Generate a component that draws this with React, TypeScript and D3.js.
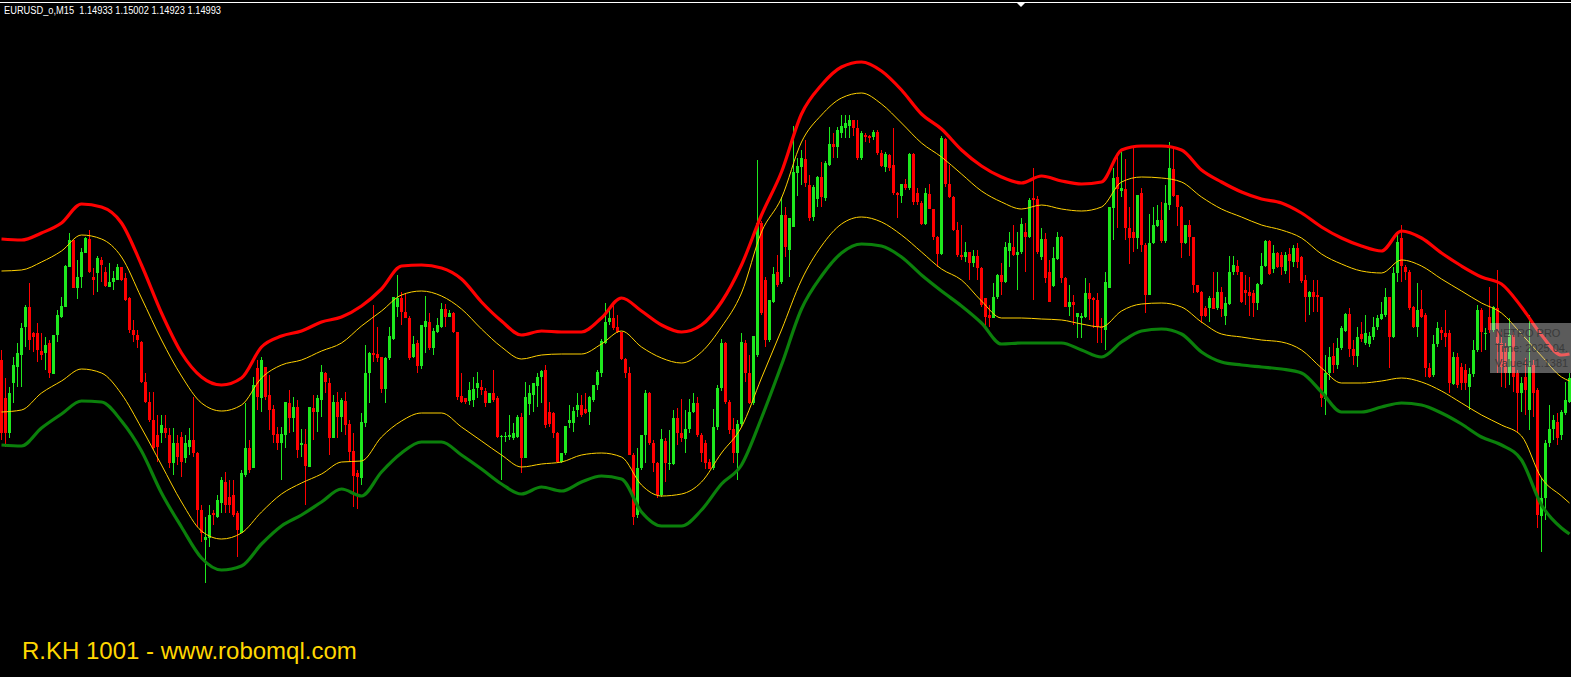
import React from "react";
import * as d3 from "d3";

const W = 1571;
const H = 677;

// Price values in points (chart units), one entry per M15 bar
const opens = [
  317, 279, 244, 294, 310, 322, 350, 370, 344, 344,
  326, 324, 334, 303, 342, 360, 370, 410, 437, 389,
  400, 424, 438, 400, 404, 417, 405, 390, 395, 397,
  410, 399, 379, 347, 342, 335, 295, 275, 257, 242,
  244, 249, 242, 214, 234, 240, 219, 230, 237, 224,
  167, 137, 139, 164, 160, 174, 195, 180, 182, 164,
  144, 202, 229, 209, 309, 279, 310, 282, 268, 243,
  234, 242, 274, 259, 270, 232, 233, 210, 269, 265,
  277, 304, 294, 239, 275, 260, 276, 253, 226, 204,
  199, 254, 304, 324, 323, 320, 288, 319, 338, 370,
  379, 365, 359, 320, 334, 311, 350, 355, 329, 345,
  350, 368, 360, 364, 345, 281, 279, 276, 277, 289,
  290, 286, 274, 284, 279, 240, 240, 240, 239, 240,
  260, 219, 273, 282, 291, 300, 307, 265, 264, 244,
  215, 224, 254, 254, 267, 272, 268, 265, 277, 292,
  304, 334, 355, 359, 350, 345, 318, 304, 222, 162,
  209, 242, 284, 234, 214, 182, 236, 213, 213, 259,
  244, 238, 248, 265, 274, 242, 234, 215, 209, 250,
  289, 334, 275, 248, 224, 253, 334, 304, 274, 322,
  454, 397, 337, 375, 405, 395, 462, 427, 450, 504,
  510, 518, 492, 460, 478, 500, 479, 512, 533, 530,
  544, 549, 551, 557, 549, 519, 542, 541, 540, 545,
  524, 510, 522, 512, 484, 481, 493, 489, 523, 484,
  474, 453, 483, 468, 440, 423, 538, 493, 480, 447,
  422, 420, 425, 414, 421, 409, 379, 362, 359, 380,
  402, 395, 426, 430, 422, 425, 445, 440, 479, 478,
  420, 438, 405, 391, 418, 440, 399, 370, 375, 360,
  359, 360, 384, 379, 377, 350, 347, 389, 469, 500,
  486, 488, 449, 445, 439, 484, 432, 382, 434, 451,
  457, 436, 472, 508, 482, 470, 434, 452, 440, 392,
  385, 369, 369, 379, 369, 385, 361, 373, 405, 411,
  405, 387, 385, 384, 374, 393, 411, 436, 408, 424,
  422, 406, 423, 415, 429, 420, 397, 380, 385, 382,
  380, 278, 304, 321, 312, 329, 346, 363, 328, 321,
  343, 334, 333, 340, 350, 358, 362, 380, 340, 404,
  439, 410, 405, 370, 350, 368, 362, 309, 302, 333,
  347, 344, 344, 293, 320, 310, 307, 290, 303, 327,
  367, 343, 360, 347, 369, 334, 329, 304, 342, 304,
  284, 300, 267, 312, 287, 161, 179, 234, 248, 255,
  242, 264, 275,
];

const highs = [
  327, 299, 290, 320, 334, 354, 372, 394, 345, 354,
  344, 340, 337, 342, 367, 380, 412, 444, 437, 417,
  429, 440, 447, 409, 421, 420, 410, 414, 406, 413,
  410, 404, 380, 357, 347, 336, 304, 285, 285, 262,
  262, 262, 249, 249, 242, 245, 242, 249, 280, 225,
  172, 160, 172, 167, 182, 200, 205, 197, 197, 166,
  207, 274, 237, 300, 317, 320, 310, 302, 272, 250,
  250, 275, 287, 280, 277, 248, 248, 270, 282, 282,
  312, 305, 299, 282, 285, 279, 285, 257, 244, 207,
  264, 332, 325, 372, 350, 320, 320, 350, 380, 402,
  385, 384, 361, 341, 337, 352, 381, 364, 349, 359,
  374, 373, 367, 365, 345, 304, 279, 295, 300, 305,
  297, 289, 284, 307, 281, 242, 245, 262, 254, 262,
  264, 295, 292, 294, 304, 307, 312, 275, 265, 245,
  224, 251, 272, 270, 284, 282, 284, 281, 292, 307,
  338, 374, 369, 372, 362, 345, 319, 310, 224, 229,
  242, 287, 285, 237, 215, 248, 239, 247, 267, 269,
  278, 267, 278, 284, 280, 244, 237, 218, 268, 292,
  338, 335, 277, 259, 257, 344, 337, 322, 341, 517,
  456, 400, 377, 410, 422, 480, 470, 459, 551, 519,
  527, 537, 502, 492, 501, 515, 516, 550, 544, 550,
  562, 562, 562, 557, 557, 546, 544, 542, 547, 547,
  527, 525, 523, 549, 485, 493, 498, 524, 524, 489,
  476, 489, 493, 468, 441, 541, 539, 512, 481, 455,
  452, 435, 425, 427, 427, 410, 379, 372, 394, 403,
  414, 435, 445, 452, 445, 459, 454, 479, 509, 481,
  449, 444, 417, 430, 445, 441, 400, 392, 382, 364,
  364, 399, 394, 380, 384, 359, 405, 470, 509, 520,
  525, 518, 470, 529, 482, 489, 434, 463, 470, 472,
  475, 492, 535, 529, 482, 471, 452, 457, 440, 392,
  386, 371, 381, 405, 405, 390, 380, 421, 421, 417,
  405, 402, 400, 387, 394, 424, 437, 437, 432, 425,
  425, 425, 429, 432, 434, 421, 402, 386, 397, 397,
  380, 322, 330, 334, 339, 351, 364, 369, 337, 350,
  355, 362, 345, 360, 362, 375, 389, 380, 410, 445,
  452, 412, 407, 371, 394, 387, 364, 314, 342, 355,
  350, 367, 347, 325, 324, 314, 313, 309, 337, 372,
  369, 349, 390, 371, 407, 345, 334, 359, 345, 307,
  300, 319, 362, 317, 289, 199, 237, 272, 262, 264,
  267, 295, 304,
];

const lows = [
  237, 230, 239, 274, 290, 290, 330, 327, 325, 315,
  317, 307, 299, 303, 335, 359, 370, 410, 389, 378,
  389, 424, 404, 382, 385, 395, 390, 390, 387, 397,
  396, 376, 344, 335, 329, 294, 274, 255, 227, 215,
  234, 239, 209, 202, 212, 200, 214, 222, 220, 150,
  135, 94, 130, 152, 159, 164, 164, 164, 160, 120,
  144, 200, 204, 209, 267, 265, 277, 247, 234, 227,
  197, 229, 244, 245, 219, 220, 172, 210, 237, 245,
  260, 284, 222, 239, 239, 245, 242, 215, 170, 168,
  192, 250, 274, 315, 315, 284, 274, 317, 337, 360,
  352, 359, 317, 319, 304, 308, 324, 327, 322, 344,
  349, 350, 360, 344, 277, 274, 273, 272, 270, 279,
  282, 270, 274, 275, 239, 197, 235, 237, 237, 239,
  204, 219, 262, 265, 270, 274, 249, 250, 239, 214,
  214, 222, 249, 245, 260, 260, 263, 252, 275, 287,
  300, 333, 352, 347, 344, 317, 299, 222, 152, 159,
  207, 214, 232, 205, 179, 180, 195, 207, 212, 232,
  235, 224, 244, 264, 240, 215, 208, 208, 207, 247,
  286, 273, 243, 214, 197, 250, 295, 273, 272, 320,
  362, 330, 335, 374, 390, 393, 420, 400, 450, 481,
  492, 490, 456, 456, 470, 470, 476, 511, 519, 519,
  539, 539, 539, 541, 517, 517, 535, 534, 537, 522,
  510, 505, 506, 482, 459, 474, 487, 487, 472, 472,
  452, 452, 468, 437, 410, 422, 490, 479, 446, 420,
  417, 415, 397, 410, 397, 370, 349, 350, 359, 378,
  382, 394, 410, 421, 387, 423, 405, 439, 377, 423,
  417, 394, 375, 390, 417, 394, 370, 361, 352, 339,
  339, 359, 357, 349, 334, 334, 327, 389, 437, 449,
  480, 437, 413, 425, 428, 425, 364, 382, 433, 450,
  434, 434, 467, 480, 451, 419, 433, 421, 384, 384,
  354, 360, 355, 368, 367, 360, 352, 372, 402, 402,
  374, 372, 361, 360, 367, 392, 410, 402, 404, 409,
  402, 403, 394, 410, 409, 394, 355, 362, 365, 365,
  270, 262, 297, 304, 308, 327, 345, 320, 312, 310,
  335, 332, 330, 337, 347, 357, 360, 309, 339, 395,
  395, 397, 367, 349, 340, 359, 300, 299, 300, 330,
  337, 330, 284, 292, 289, 287, 287, 267, 300, 325,
  325, 327, 344, 345, 304, 290, 289, 292, 285, 244,
  265, 262, 247, 260, 149, 125, 157, 230, 237, 232,
  237, 262, 274,
];

const closes = [
  244, 244, 284, 312, 324, 349, 370, 337, 340, 327,
  322, 332, 304, 342, 362, 371, 411, 437, 389, 400,
  425, 439, 405, 397, 419, 412, 391, 395, 399, 410,
  397, 377, 347, 342, 337, 295, 275, 257, 229, 230,
  252, 244, 214, 234, 220, 215, 234, 237, 224, 167,
  144, 140, 162, 162, 177, 197, 172, 172, 162, 147,
  204, 229, 207, 292, 280, 317, 280, 267, 242, 234,
  243, 275, 259, 270, 227, 234, 211, 270, 265, 279,
  305, 295, 239, 275, 260, 277, 252, 225, 201, 200,
  255, 304, 324, 322, 319, 288, 319, 341, 380, 379,
  365, 359, 319, 333, 311, 352, 356, 329, 346, 352,
  368, 360, 364, 345, 280, 275, 275, 287, 288, 294,
  287, 274, 284, 277, 240, 241, 241, 242, 244, 260,
  219, 280, 284, 294, 300, 306, 252, 253, 244, 215,
  224, 251, 257, 266, 272, 262, 264, 280, 292, 305,
  336, 355, 359, 349, 345, 318, 304, 222, 160, 209,
  242, 284, 234, 214, 182, 238, 214, 214, 259, 244,
  239, 248, 265, 274, 242, 224, 214, 208, 250, 289,
  334, 275, 247, 224, 253, 335, 304, 274, 341, 454,
  364, 337, 377, 403, 392, 462, 430, 459, 505, 511,
  519, 494, 459, 490, 500, 480, 514, 533, 530, 547,
  551, 554, 557, 549, 519, 544, 540, 539, 545, 524,
  511, 523, 509, 484, 482, 493, 489, 523, 475, 475,
  453, 484, 468, 440, 423, 539, 493, 480, 447, 422,
  420, 425, 414, 421, 409, 372, 360, 359, 380, 402,
  395, 430, 434, 422, 425, 453, 440, 477, 477, 425,
  438, 399, 375, 419, 440, 399, 370, 375, 372, 364,
  361, 384, 378, 377, 350, 349, 395, 470, 499, 488,
  489, 449, 439, 439, 482, 432, 382, 434, 452, 457,
  436, 474, 509, 481, 470, 434, 452, 440, 392, 385,
  361, 361, 379, 368, 385, 368, 374, 405, 412, 405,
  375, 384, 381, 374, 393, 411, 436, 403, 424, 410,
  410, 422, 416, 429, 415, 396, 380, 385, 380, 380,
  279, 304, 320, 312, 329, 349, 363, 328, 321, 340,
  338, 344, 341, 350, 359, 363, 380, 340, 404, 435,
  411, 405, 369, 350, 367, 360, 309, 300, 333, 349,
  344, 340, 294, 320, 292, 294, 294, 303, 327, 367,
  345, 344, 347, 370, 334, 310, 304, 342, 300, 284,
  294, 287, 310, 284, 162, 179, 234, 248, 257, 239,
  265, 277, 299,
];

// Envelope bands, sampled every 5 bars (last sample = last bar)
const bandBars = [
  0, 5, 10, 15, 20, 25, 30, 35, 40, 45, 50, 55, 60, 65, 70, 75, 80, 85, 90, 95,
  100, 105, 110, 115, 120, 125, 130, 135, 140, 145, 150, 155, 160, 165, 170, 175, 180, 185, 190, 195,
  200, 205, 210, 215, 220, 225, 230, 235, 240, 245, 250, 255, 260, 265, 270, 275, 280, 285, 290, 295,
  300, 305, 310, 315, 320, 325, 330, 335, 340, 345, 350, 355, 360, 365, 370, 375, 380, 385, 390, 392,
];

const outerUpper = [
  438, 437, 444, 454, 473, 470, 454, 412, 364, 324,
  300, 292, 299, 330, 341, 346, 355, 360, 371, 388,
  411, 412, 409, 398, 375, 356, 342, 346, 345, 345,
  359, 379, 366, 352, 345, 352, 375, 412, 462, 505,
  563, 592, 610, 615, 606, 587, 563, 548, 527, 511,
  500, 494, 501, 496, 493, 495, 527, 531, 531, 527,
  507, 495, 485, 478, 474, 464, 450, 439, 431, 426,
  446, 439, 424, 411, 400, 393, 370, 342, 322, 323,
];

const innerUpper = [
  406, 407, 415, 426, 442, 438, 420, 379, 337, 301,
  274, 266, 272, 299, 312, 317, 326, 334, 351, 366,
  382, 386, 381, 368, 348, 330, 318, 322, 323, 323,
  333, 346, 330, 319, 314, 325, 350, 384, 445, 479,
  535, 562, 579, 584, 573, 554, 534, 520, 503, 486,
  475, 468, 472, 468, 466, 470, 495, 500, 499, 495,
  480, 468, 460, 452, 447, 439, 423, 413, 406, 404,
  417, 411, 398, 386, 374, 364, 343, 321, 300, 296,
];

const innerLower = [
  265, 267, 284, 296, 308, 304, 283, 249, 212, 175,
  146, 138, 144, 165, 183, 194, 203, 215, 216, 240,
  256, 264, 264, 250, 236, 222, 210, 213, 215, 222,
  224, 220, 192, 181, 183, 195, 224, 250, 299, 347,
  397, 431, 453, 460, 455, 442, 425, 408, 397, 376,
  359, 359, 358, 357, 353, 350, 366, 373, 374, 370,
  355, 343, 340, 337, 335, 327, 309, 294, 294, 296,
  299, 295, 286, 274, 262, 252, 241, 199, 181, 174,
];

const outerLower = [
  232, 231, 249, 263, 276, 275, 256, 226, 184, 150,
  119, 107, 111, 133, 151, 162, 175, 188, 181, 205,
  224, 235, 235, 222, 208, 193, 183, 190, 186, 195,
  201, 198, 165, 151, 151, 167, 193, 212, 259, 312,
  368, 401, 424, 433, 431, 420, 402, 386, 371, 354,
  333, 334, 334, 334, 327, 320, 335, 346, 348, 343,
  325, 315, 312, 310, 308, 304, 285, 265, 265, 270,
  274, 272, 264, 253, 240, 232, 217, 172, 149, 143,
];

const headerText = "EURUSD_o,M15  1.14933 1.15002 1.14923 1.14993";
const footerText = "R.KH 1001 - www.robomql.com";
const tipLines = ["NETRO PRO", "Time: 2025.04.", "Value4: 1.1381"];

const BULL = "#1ee81e";
const BEAR = "#ff0000";

export default function App() {
  const n = closes.length;
  const x = d3.scaleLinear().domain([0, n - 1]).range([1, 1 + 4 * (n - 1)]);
  const y = d3.scaleLinear().domain([0, H]).range([H, 0]);

  const bandPath = (vals: number[]) =>
    d3
      .line<number>()
      .x((_, k) => x(bandBars[k]) + 0.5)
      .y((v) => y(v))
      .curve(d3.curveMonotoneX)(vals) || "";

  const candles = closes.map((c, i) => {
    const o = opens[i];
    const hi = Math.max(highs[i], o, c);
    const lo = Math.min(lows[i], o, c);
    const cx = Math.round(x(i));
    const top = Math.round(y(Math.max(o, c)));
    const bot = Math.round(y(Math.min(o, c)));
    const col = c >= o ? BULL : BEAR;
    return (
      <g key={i}>
        <rect x={cx} y={Math.round(y(hi))} width={1} height={Math.max(1, Math.round(y(lo)) - Math.round(y(hi)))} fill={col} />
        <rect x={cx - 1} y={top} width={3} height={Math.max(1, bot - top)} fill={col} />
      </g>
    );
  });

  return (
    <svg
      width={W}
      height={H}
      style={{ position: "absolute", left: 0, top: 0, display: "block", background: "#000" }}
    >
      <rect x={0} y={0} width={W} height={H} fill="#000" />
      <g shapeRendering="crispEdges">{candles}</g>
      <g fill="none" strokeLinejoin="round">
        <path d={bandPath(innerUpper)} stroke="#ffd000" strokeWidth={1} />
        <path d={bandPath(innerLower)} stroke="#ffd000" strokeWidth={1} />
        <path d={bandPath(outerUpper)} stroke="#ff0000" strokeWidth={3.2} />
        <path d={bandPath(outerLower)} stroke="#0b800b" strokeWidth={3.2} />
      </g>
      <rect x={0} y={2} width={W} height={1} fill="#ffffff" />
      <polygon points="1016,2 1026,2 1021,7" fill="#ffffff" />
      <text
        x={4}
        y={14}
        fill="#ffffff"
        fontFamily="Liberation Sans, Arial, sans-serif"
        fontSize={10}
        textLength={217}
        lengthAdjust="spacingAndGlyphs"
        style={{ whiteSpace: "pre" }}
      >
        {headerText}
      </text>
      <rect x={1490} y={323} width={W - 1490} height={50} fill="#d8d8d8" opacity={0.42} />
      {tipLines.map((t, k) => (
        <text
          key={k}
          x={1495}
          y={337 + k * 15}
          fill="#3a3a3a"
          fontFamily="Liberation Sans, Arial, sans-serif"
          fontSize={11}
        >
          {t}
        </text>
      ))}
      <text
        x={22}
        y={659}
        fill="#ffd700"
        fontFamily="Liberation Sans, Arial, sans-serif"
        fontSize={24}
      >
        {footerText}
      </text>
    </svg>
  );
}
